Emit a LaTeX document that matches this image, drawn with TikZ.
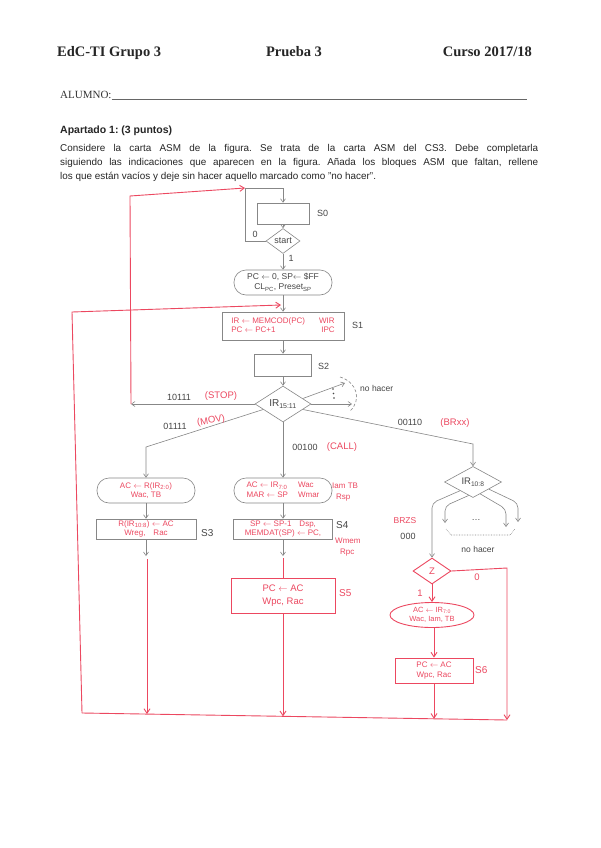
\documentclass[tikz,border=0pt]{standalone}
\usepackage{fontspec}
\setmainfont{Liberation Serif}
\setsansfont{Liberation Sans}
\usetikzlibrary{arrows.meta,shapes.geometric,calc}
\definecolor{gcol}{RGB}{135,135,135}
\definecolor{gtxt}{RGB}{70,70,70}
\definecolor{rcol}{RGB}{236,72,96}
\frenchspacing
\begin{document}
\begin{tikzpicture}[x=1pt,y=-1pt,
  gline/.style={draw=gcol,line width=0.6pt},
  garrow/.style={gline,-{Straight Barb[length=3.5pt,width=5pt]}},
  rline/.style={draw=rcol,line width=0.9pt},
  rarrow/.style={rline,-{Straight Barb[length=4.5pt,width=6pt]}},
  gtext/.style={text=gtxt,font=\sffamily\fontsize{9}{10}\selectfont,inner sep=0pt},
  rtext/.style={text=rcol,font=\sffamily\fontsize{8}{9.5}\selectfont,inner sep=0pt},
  gbox/.style={gline,rectangle,inner sep=0pt,align=center},
  gcond/.style={gline,rectangle,rounded corners=12pt,inner sep=0pt,align=center},
  gdia/.style={gline,diamond,inner sep=0pt,text=gtxt,font=\sffamily\fontsize{9}{10}\selectfont},
  rbox/.style={rline,rectangle,inner sep=0pt,align=center},
]
\useasboundingbox (0,0) rectangle (600,848);
\fill[white] (0,0) rectangle (600,848);

% header
\node[anchor=base west,font=\bfseries\fontsize{14.5}{16}\selectfont,inner sep=0pt,text=black!85] (h1) at (57,57) {EdC-TI Grupo 3};
\node[anchor=base,font=\bfseries\fontsize{14.5}{16}\selectfont,inner sep=0pt,text=black!85] (h2) at (294,57) {Prueba 3};
\node[anchor=base east,font=\bfseries\fontsize{14.5}{16}\selectfont,inner sep=0pt,text=black!85] (h3) at (532,57) {Curso 2017/18};
\node[anchor=base west,font=\fontsize{11}{13}\selectfont,inner sep=0pt,text=black!80] (al) at (60,99) {ALUMNO:};
\draw[line width=0.5pt,black!60] (al.base east) -- (527,99);
\node[anchor=base west,font=\sffamily\bfseries\fontsize{10.5}{12}\selectfont,inner sep=0pt,text=black!85] (ap) at (60,134) {Apartado 1: (3 puntos)};
\node[anchor=north west,inner sep=0pt,text width=478pt,align=justify,font=\sffamily\fontsize{9.9}{14}\selectfont,text=black!85] (para) at (60,144.5)
 {Considere la carta ASM de la figura. Se trata de la carta ASM del CS3. Debe completarla\linebreak siguiendo las indicaciones que aparecen en la figura. Añada los bloques ASM que faltan, rellene\linebreak los que están vacíos y deje sin hacer aquello marcado como "no hacer".};

% S0 and start
\node[gbox,minimum width=52pt,minimum height=21pt] (s0) at (283,213.5) {};
\node[gtext,anchor=west] (ls0) at (317,213) {S0};
\node[gdia,minimum width=34pt,minimum height=25pt] (start) at (283,241) {start};
\draw[garrow] (s0.south) -- (start.north);
\coordinate (lp) at (245,188);
\draw[garrow] (start.west) -- (lp |- start.west) -- (lp) -- (s0.north |- lp) -- (s0.north);
\node[gtext] (l0) at (255,234) {0};
\node[gtext] (l1) at (291,258) {1};
\node[gcond,minimum width=98pt,minimum height=25pt,text=gtxt,font=\sffamily\fontsize{8.5}{10}\selectfont] (c1) at (283,282.5)
 {PC $\leftarrow$ 0, SP$\leftarrow$ \$FF\\CL\textsubscript{PC}, Preset\textsubscript{SP}};
\draw[garrow] (start.south) -- (c1.north);

% S1
\node[gbox,minimum width=122pt,minimum height=28pt,rtext] (s1) at (283,326)
 {\begin{tabular}{@{}l@{\hspace{14pt}}r@{}}IR $\leftarrow$ MEMCOD(PC) & WIR\\ PC $\leftarrow$ PC+1 & IPC\end{tabular}};
\node[gtext,anchor=west] (ls1) at (352,325) {S1};
\draw[garrow] (c1.south) -- (s1.north);

% S2
\node[gbox,minimum width=57pt,minimum height=22pt] (s2) at (283,365) {};
\node[gtext,anchor=west] (ls2) at (318,366) {S2};
\draw[garrow] (s1.south) -- (s2.north);

% IR 15:11
\node[gdia,minimum width=56pt,minimum height=29pt,font=\sffamily\fontsize{10}{11}\selectfont] (ir) at (283,404) {IR\textsubscript{15:11}};
\draw[garrow] (s2.south) -- (ir.north);

% STOP branch
\coordinate (stopend) at (131,404);
\draw[garrow] (ir.west) -- (stopend);
\node[gtext] (lstop) at (179,397) {10111};
\node[rtext,font=\sffamily\fontsize{9.5}{10}\selectfont] (rstop) at (221,396) {(STOP)};
\coordinate (rtop) at (130,196);
\draw[rarrow] (stopend) -- (rtop) -- (lp);

% no hacer (top)
\coordinate (nh1) at (345,383);
\coordinate (nh2) at (352,404);
\draw[garrow] ($(ir.east)!0.3!(ir.north)$) -- (nh1);
\draw[garrow] (ir.east) -- (nh2);
\fill[gtxt] (333,389) circle (0.8pt) (333.5,393.5) circle (0.8pt) (334,398) circle (0.8pt);
\draw[gline,densely dashed] (340,377) .. controls (357,382) and (362,400) .. (350,411);
\node[gtext,anchor=west,font=\sffamily\fontsize{8.5}{10}\selectfont] (nht) at (360,388) {no hacer};

% BRxx branch
\node[gdia,minimum width=57pt,minimum height=27pt,font=\sffamily\fontsize{9.5}{11}\selectfont] (ir2) at (473,482) {IR\textsubscript{10:8}};
\draw[garrow] ($(ir.east)!0.3!(ir.south)$) -- (ir2.north |- 0,444) -- (ir2.north);
\node[gtext] (lbr) at (410,422) {00110};
\node[rtext,font=\sffamily\fontsize{9.5}{10}\selectfont] (rbr) at (455,423) {(BRxx)};

% CALL branch labels
\node[gtext] (lcall) at (305,447) {00100};
\node[rtext,font=\sffamily\fontsize{9.5}{10}\selectfont] (rcall) at (342,447) {(CALL)};

% MOV branch
\node[gcond,minimum width=98pt,minimum height=25pt,rtext] (c2) at (146,490.5)
 {AC $\leftarrow$ R(IR\textsubscript{2:0})\\Wac, TB};
\draw[garrow] ($(ir.west)!0.3!(ir.south)$) -- (c2.north |- 0,447) -- (c2.north);
\node[gtext] (lmov) at (175,426) {01111};
\node[rtext,font=\sffamily\fontsize{9.5}{10}\selectfont,rotate=10] (rmov) at (211,421) {(MOV)};

\node[gbox,minimum width=100pt,minimum height=20pt,rtext] (s3) at (146,529)
 {R(IR\textsubscript{10:8}) $\leftarrow$ AC\\Wreg,\quad Rac};
\node[gtext,anchor=west,font=\sffamily\fontsize{10}{11}\selectfont] (ls3) at (201,533) {S3};
\draw[garrow] (c2.south) -- (s3.north);
\coordinate (g3) at (146,556);
\draw[garrow] (s3.south) -- (g3);

% CALL column
\node[gcond,minimum width=98pt,minimum height=25pt,rtext] (c3) at (283,490.5)
 {\begin{tabular}{@{}l@{\hspace{10pt}}l@{}}AC $\leftarrow$ IR\textsubscript{7:0} & Wac\\ MAR $\leftarrow$ SP & Wmar\end{tabular}};
\draw[garrow] (ir.south) -- (c3.north);
\node[rtext,anchor=west] (c3x1) at (332,485.5) {Iam TB};
\node[rtext,anchor=west] (c3x2) at (336,497.5) {Rsp};
\node[gbox,minimum width=99pt,minimum height=20pt,rtext] (s4) at (283,529)
 {SP $\leftarrow$ SP-1\quad Dsp,\\MEMDAT(SP) $\leftarrow$ PC,};
\draw[garrow] (c3.south) -- (s4.north);
\node[gtext,anchor=west,font=\sffamily\fontsize{10}{11}\selectfont] (ls4) at (336,525) {S4};
\node[rtext,anchor=west] (s4x1) at (335,541) {Wmem};
\node[rtext,anchor=west] (s4x2) at (340,553) {Rpc};
\coordinate (g4) at (283,556);
\draw[garrow] (s4.south) -- (g4);
\node[rbox,minimum width=104pt,minimum height=35pt,rtext,font=\sffamily\fontsize{9.5}{13}\selectfont] (s5) at (283,595.5)
 {PC $\leftarrow$ AC\\Wpc, Rac};
\node[rtext,anchor=west,font=\sffamily\fontsize{10}{11}\selectfont] (ls5) at (339,593) {S5};
\draw[rline] (283,558) -- (s5.north);

% IR 10:8 branches
\node[rtext,font=\sffamily\fontsize{8.5}{10}\selectfont] (brzs) at (405,521) {BRZS};
\node[gtext] (l000) at (408,536) {000};
\node[rline,diamond,minimum width=38pt,minimum height=26pt,inner sep=0pt,rtext,font=\sffamily\fontsize{9.5}{10}\selectfont] (zd) at (432,571) {Z};
\draw[garrow,rounded corners=5pt] ($(ir2.west)!0.55!(ir2.south)$) -- (432,503) -- (zd.north);
\coordinate (b2) at (445,523);
\coordinate (b3) at (506,527);
\coordinate (b4) at (518,522);
\draw[garrow,rounded corners=5pt] ($(ir2.west)!0.85!(ir2.south)$) -- (445,506) -- (b2);
\draw[garrow,rounded corners=5pt] ($(ir2.east)!0.75!(ir2.south)$) -- (506,509) -- (b3);
\draw[garrow,rounded corners=5pt] ($(ir2.east)!0.45!(ir2.south)$) -- (518,503) -- (b4);
\node[gtext] (dots) at (476,520) {\dots};
\draw[gline,densely dotted] (446,529) -- (451,535) -- (510,535) -- (515,529);
\node[gtext,font=\sffamily\fontsize{8.5}{10}\selectfont] (nh3) at (478,549) {no hacer};

\node[rtext,font=\sffamily\fontsize{9.5}{10}\selectfont] (z1) at (420,593) {1};
\node[rtext,font=\sffamily\fontsize{9.5}{10}\selectfont] (z0) at (477,577) {0};
\node[rline,ellipse,minimum width=84pt,minimum height=25pt,inner sep=0pt,rtext,font=\sffamily\fontsize{7.5}{9}\selectfont,align=center] (c4) at (432,615)
 {AC $\leftarrow$ IR\textsubscript{7:0}\\Wac, Iam, TB};
\draw[rarrow] (zd.south) -- (c4.north);
\node[rbox,minimum width=78pt,minimum height=25pt,rtext] (s6) at (434,670.5)
 {PC $\leftarrow$ AC\\Wpc, Rac};
\node[rtext,anchor=west,font=\sffamily\fontsize{10}{11}\selectfont] (ls6) at (475,670) {S6};
\draw[rarrow] (c4.south -| s6.north) -- (s6.north);

% bottom red return
\coordinate (bl) at (82,713);
\coordinate (br) at (507,720);
\coordinate (tl) at (72,312);
\coordinate (s1in) at (281,305);
\draw[rline] (bl) -- (br);
\draw[rarrow] (bl) -- (tl) -- (s1in);
\draw[rarrow] (147,559) -- (147,714);
\draw[rarrow] (s5.south) -- (283,716.3);
\draw[rarrow] (s6.south) -- (434,718.8);
\draw[rarrow] (zd.east) -- (507,568) -- (br);
\end{tikzpicture}
\end{document}
